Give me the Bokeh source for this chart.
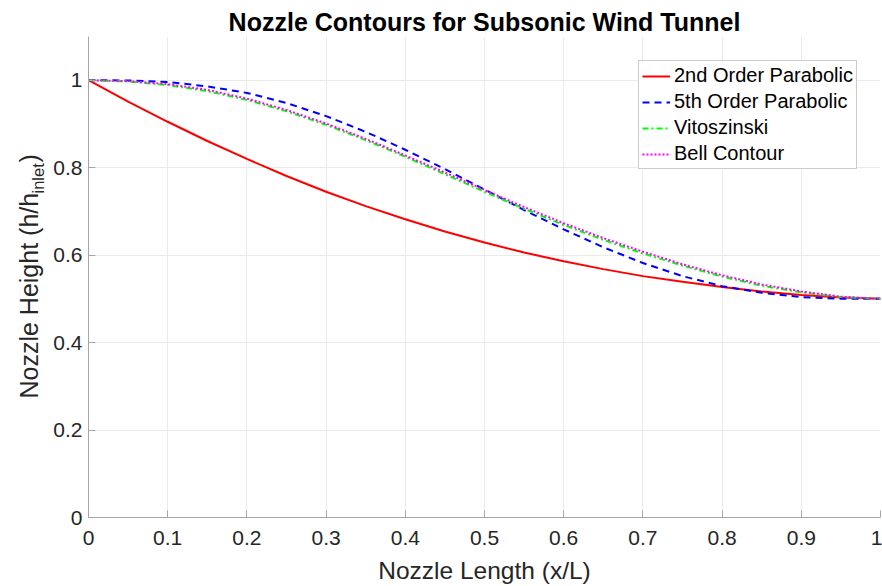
import numpy as np
from bokeh.plotting import figure
from bokeh.layouts import row
from bokeh.models import Range1d, Legend, LegendItem, FixedTicker
from bokeh.core.properties import value
from bokeh.embed import file_html
from bokeh.resources import INLINE

# x positions (x/L)
x_vals = [0.00, 0.05, 0.10, 0.15, 0.20, 0.25, 0.30, 0.35, 0.40, 0.45, 0.50,
          0.55, 0.60, 0.65, 0.70, 0.75, 0.80, 0.85, 0.90, 0.95, 1.00]

parabolic_2nd = [1.000, 0.951, 0.905, 0.861, 0.820, 0.781, 0.745, 0.712, 0.682, 0.654, 0.629,
                 0.606, 0.586, 0.568, 0.552, 0.539, 0.527, 0.517, 0.509, 0.503, 0.500]
parabolic_5th = [1.000, 0.9995, 0.996, 0.986, 0.971, 0.948, 0.918, 0.882, 0.841, 0.797, 0.750,
                 0.703, 0.659, 0.618, 0.582, 0.552, 0.529, 0.514, 0.504, 0.5005, 0.500]
vitoszinski = [1.000, 0.997, 0.989, 0.975, 0.955, 0.929, 0.898, 0.863, 0.825, 0.785, 0.745,
               0.706, 0.669, 0.635, 0.604, 0.576, 0.551, 0.530, 0.515, 0.504, 0.500]
bell_contour = [1.000, 0.998, 0.991, 0.978, 0.958, 0.932, 0.901, 0.866, 0.828, 0.789, 0.749,
                0.710, 0.673, 0.639, 0.608, 0.579, 0.554, 0.533, 0.517, 0.505, 0.500]

x_ticks = [0, 0.1, 0.2, 0.3, 0.4, 0.5, 0.6, 0.7, 0.8, 0.9, 1]
y_ticks = [0, 0.2, 0.4, 0.6, 0.8, 1]
series_names = ["2nd Order Parabolic", "5th Order Parabolic", "Vitoszinski", "Bell Contour"]
ylabel_parts = ["Nozzle Height (h/h", "inlet", ")"]

FONT = "Liberation Sans"
TOP, BOTTOM, H = 36, 69, 586
LEFT_W = 48

y_range = Range1d(0, 1.1)

# ---------- main plot ----------
p = figure(width=882 - LEFT_W, height=H, output_backend="svg", toolbar_location=None,
           x_range=Range1d(0, 1), y_range=y_range,
           min_border_left=88 - LEFT_W, min_border_right=2,
           min_border_top=TOP, min_border_bottom=BOTTOM)

p.title.text = "Nozzle Contours for Subsonic Wind Tunnel"
p.title.align = "center"
p.title.text_font = FONT
p.title.text_font_size = "25px"
p.title.text_font_style = "bold"
p.title.text_color = "#000000"
p.title.standoff = 2

p.outline_line_color = None
p.background_fill_color = "white"
p.border_fill_color = "white"

for ax in (p.xaxis, p.yaxis):
    ax.major_label_text_font = FONT
    ax.major_label_text_font_size = "21px"
    ax.major_label_text_color = "#262626"
    ax.axis_line_color = "#a6a6a6"
    ax.major_tick_line_color = "#a6a6a6"
    ax.major_tick_in = 7
    ax.major_tick_out = 0
    ax.minor_tick_line_color = None
p.xaxis.major_label_standoff = 13
p.yaxis.major_label_standoff = 6

p.xaxis.ticker = FixedTicker(ticks=x_ticks)
p.yaxis.ticker = FixedTicker(ticks=y_ticks)
p.xaxis.major_label_overrides = {t: f"{t:g}" for t in x_ticks}
p.yaxis.major_label_overrides = {t: f"{t:g}" for t in y_ticks}

p.xaxis.axis_label = "Nozzle Length (x/L)"
p.xaxis.axis_label_text_font = FONT
p.xaxis.axis_label_text_font_size = "24.5px"
p.xaxis.axis_label_text_font_style = "normal"
p.xaxis.axis_label_text_color = "#262626"
p.xaxis.axis_label_standoff = 9

p.xgrid.ticker = FixedTicker(ticks=x_ticks)
p.ygrid.ticker = FixedTicker(ticks=y_ticks)
p.grid.grid_line_color = "#ebebeb"
p.grid.grid_line_width = 1

r1 = p.line(x_vals, parabolic_2nd, line_color="#ff0000", line_width=2)
r2 = p.line(x_vals, parabolic_5th, line_color="#0000ff", line_width=2, line_dash="7 5")
r3 = p.line(x_vals, vitoszinski, line_color="#00ff00", line_width=2, line_dash="6 3 2 3")
r4 = p.line(x_vals, bell_contour, line_color="#ff00ff", line_width=2, line_dash="2 2")

legend = Legend(items=[LegendItem(label=n, renderers=[r]) for n, r in
                       zip(series_names, [r1, r2, r3, r4])],
                location=(550, 348))
legend.label_text_font = FONT
legend.label_text_font_size = "20px"
legend.label_text_color = "#000000"
legend.glyph_width = 28
legend.glyph_height = 18
legend.label_height = 18
legend.label_standoff = 4
legend.spacing = 3
legend.padding = 3
legend.margin = 0
legend.border_line_color = "#9a9a9a"
legend.border_line_width = 1
legend.background_fill_color = "white"
legend.background_fill_alpha = 1
p.add_layout(legend, "center")

# ---------- y-axis label (with subscript) in a narrow strip ----------
pl = figure(width=LEFT_W, height=H, output_backend="svg", toolbar_location=None,
            x_range=Range1d(0, LEFT_W), y_range=y_range,
            min_border_left=0, min_border_right=0,
            min_border_top=TOP, min_border_bottom=BOTTOM,
            x_axis_type=None, y_axis_type=None)
pl.outline_line_color = None
pl.grid.visible = False
pl.border_fill_color = "white"

per_px = 1.1 / (H - TOP - BOTTOM)   # data units per screen pixel (vertical)
frame_bottom = H - BOTTOM
start_y = (frame_bottom - 398) * per_px
pl.text(x=[28], y=[start_y], text=[ylabel_parts[0]], angle=np.pi / 2,
        text_font=value(FONT), text_font_size="25px", text_color="#262626",
        text_align="left", text_baseline="middle")
pl.text(x=[37.5], y=[start_y + 205 * per_px], text=[ylabel_parts[1]], angle=np.pi / 2,
        text_font=value(FONT), text_font_size="16.5px", text_color="#262626",
        text_align="left", text_baseline="middle")
pl.text(x=[28], y=[start_y + 236 * per_px], text=[ylabel_parts[2]], angle=np.pi / 2,
        text_font=value(FONT), text_font_size="25px", text_color="#262626",
        text_align="left", text_baseline="middle")

layout = row(pl, p, spacing=0)
open("out.html", "w").write(file_html(layout, INLINE))
